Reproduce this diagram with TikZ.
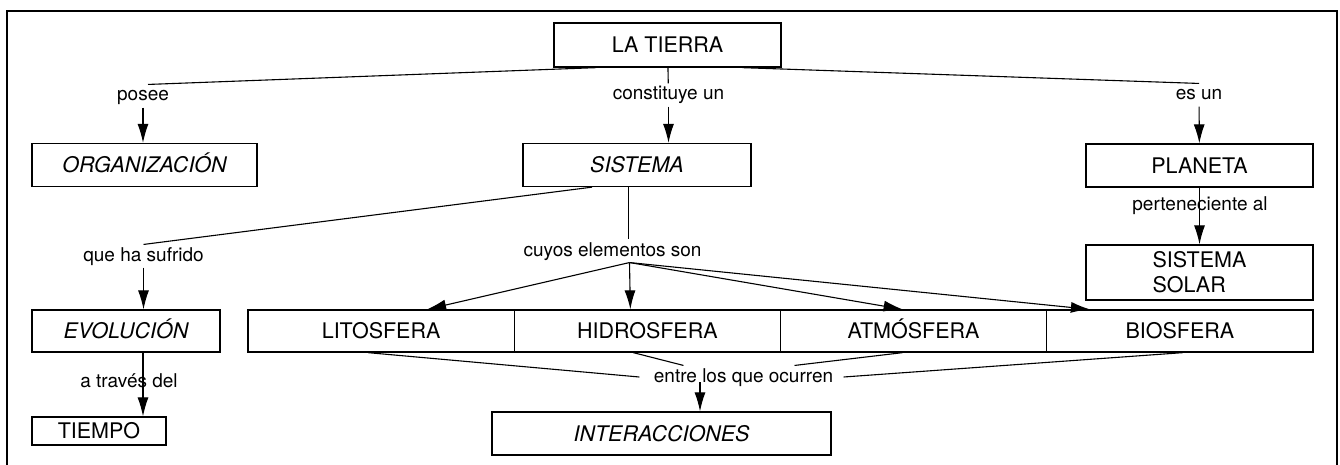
\documentclass[tikz,border=0pt]{standalone}
\usepackage{fontspec}
\setmainfont{TeX Gyre Heros}
\usetikzlibrary{arrows.meta}
\begin{document}
\begin{tikzpicture}[x=1pt,y=-1pt,line width=1.1pt,
    caja/.style={draw,line width=1.3pt,inner sep=0pt,minimum height=43pt,
      text height=15.5pt,text depth=0pt,font=\fontsize{21.5}{25}\selectfont},
    etq/.style={inner sep=2pt,text height=14pt,text depth=4pt,anchor=base,
      font=\fontsize{19}{21}\selectfont},
    flecha/.style={-{Latex[length=19pt,width=11pt]}}]
  \useasboundingbox(0,0)rectangle(1340,465);
  \draw[line width=1.5pt](7,465)--(7,11)--(1337,11)--(1337,465);
  \node[caja,minimum width=227pt,minimum height=44pt](tierra)at(667.5,45){LA TIERRA};
  \node[caja,minimum width=225pt](org)at(144.5,165){\itshape ORGANIZACIÓN};
  \node[caja,minimum width=228pt](sist)at(637,165){\itshape SISTEMA};
  \node[caja,minimum width=227pt](planeta)at(1199.5,165.5){PLANETA};
  \node[caja,minimum width=227pt,minimum height=55pt,text height=,text depth=,align=left](solar)
    at(1199.5,272.5){SISTEMA\\SOLAR};
  \node[caja,minimum width=188pt,minimum height=42pt](evol)at(126,331){\itshape EVOLUCIÓN};
  \node[caja,minimum width=134pt,minimum height=28pt](tiempo)at(99,431){TIEMPO};
  \node[caja,minimum width=339pt](inter)at(661.5,433.5){\itshape INTERACCIONES};
  \foreach \n/\t [count=\i from 0] in {lito/LITOSFERA,hidro/HIDROSFERA,atmo/ATMÓSFERA,bio/BIOSFERA}
    \node[caja,minimum width=266.25pt,minimum height=42pt](\n)at(381.1+266.25*\i,331){\t};
  \node[etq](posee)at(143,101){posee};
  \node[etq](const)at(668.5,100){constituye un};
  \node[etq](esun)at(1199,100){es un};
  \node[etq](pert)at(1200,211){perteneciente al};
  \node[etq](que)at(143.5,261){que ha sufrido};
  \node[etq](cuyos)at(612.5,256){cuyos elementos son};
  \node[etq](traves)at(129,387){a través del};
  \node[etq](entre)at(743.5,382){entre los que ocurren};
  \draw([xshift=-71.5pt]tierra.south)--([xshift=5pt]posee.north);
  \draw(tierra)--(const);
  \draw([xshift=75pt]tierra.south)--(esun.north);
  \draw[flecha](posee.south)--(posee.south|-org.north);
  \draw[flecha](const.south)--(const.south|-sist.north);
  \draw[flecha](esun)--(planeta);
  \draw[flecha](planeta)--(solar);
  \draw([xshift=-45pt]sist.south)--(que.north);
  \draw([xshift=-8.5pt]sist.south)--([xshift=16pt]cuyos.north);
  \draw[flecha](que.south)--(que.south|-evol.north);
  \draw[flecha](evol.south-|posee)--(tiempo.north-|posee);
  \coordinate(f)at([xshift=17pt]cuyos.south);
  \foreach \n/\s in {lito/46,hidro/-17,atmo/-11,bio/-90}
    \draw[flecha](f)--([xshift=\s pt]\n.north);
  \draw([xshift=-13pt]lito.south)--([xshift=-12pt]entre.west);
  \draw([xshift=-14pt]hidro.south)--([xshift=-60pt]entre.north);
  \draw([xshift=-11pt]atmo.south)--([xshift=51pt]entre.north);
  \draw([xshift=3pt]bio.south)--([xshift=8pt]entre.east);
  \draw[flecha]([xshift=-43.5pt]entre.base)--([xshift=38.5pt]inter.north);
\end{tikzpicture}
\end{document}
